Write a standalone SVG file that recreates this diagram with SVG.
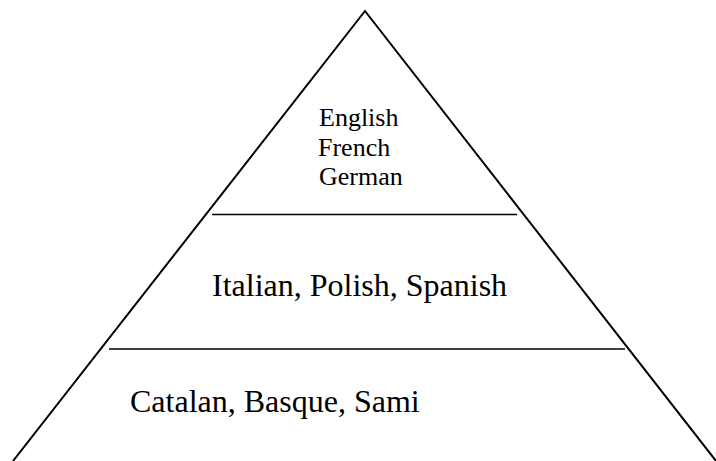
<svg xmlns="http://www.w3.org/2000/svg" width="716" height="461" viewBox="0 0 716 461">
<style>
.t{font-family:"Liberation Serif","Times New Roman",serif;fill:#000}
.big{font-size:32px}
.sm{font-size:26px}
.ln{stroke:#000;fill:none}
</style>
<rect width="716" height="461" fill="#fff"/>
<g id="pyramid">
<polyline class="ln" stroke-width="2" points="13,461 365,11 716,461"/>
</g>
<g id="connectors">
<line class="ln" stroke-width="1.5" x1="212" y1="214.5" x2="517" y2="214.5"/>
<line class="ln" stroke-width="1.5" x1="109" y1="349" x2="625" y2="349"/>
</g>
<g id="top">
<text class="t sm" x="319" y="126">English</text>
<text class="t sm" x="318" y="156">French</text>
<text class="t sm" x="319" y="185">German</text>
</g>
<g id="middle">
<text class="t big" x="212" y="296">Italian, Polish, Spanish</text>
</g>
<g id="bottom">
<text class="t big" x="130" y="412">Catalan, Basque, Sami</text>
</g>
</svg>
